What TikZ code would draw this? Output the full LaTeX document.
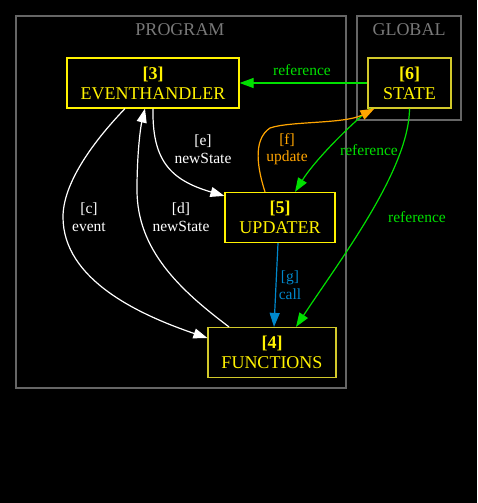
\documentclass[tikz,border=0pt]{standalone}
\usepackage{fontspec}
\setmainfont{Liberation Serif}
\usetikzlibrary{arrows.meta}
\definecolor{refgreen}{RGB}{0,224,0}
\definecolor{updorange}{RGB}{255,165,0}
\definecolor{callblue}{RGB}{0,136,204}
\definecolor{clustergray}{RGB}{102,102,102}
\definecolor{titlegray}{RGB}{120,120,120}
\begin{document}
\begin{tikzpicture}[->,>={Triangle[length=14pt,width=10pt]},x=1pt,y=-1pt,line width=1.2pt]
\tikzset{BoxStyle/.style = {draw=yellow,text=yellow,align=center,inner sep=0pt,minimum height=50pt,font=\fontsize{18pt}{20pt}\selectfont},
  DimBox/.style = {BoxStyle,draw=yellow!80!black},
  LabelStyle/.style = {align=center,inner sep=0pt,font=\fontsize{15.5pt}{17.5pt}\selectfont},
  ClusterStyle/.style = {-,draw=clustergray},
  TitleStyle/.style = {text=titlegray,font=\fontsize{18pt}{20pt}\selectfont}}
\fill[black] (0,0) rectangle (477,503);
% clusters
\draw[ClusterStyle] (16,16) rectangle (346,388);
\draw[ClusterStyle] (357,16) rectangle (461,120);
\node[TitleStyle] (program) at (180,30) {PROGRAM};
\node[TitleStyle] (global) at (409,30) {GLOBAL};
% boxes
\node[BoxStyle,minimum width=172pt] (ev) at (153,83) {{\bfseries [3]}\\EVENTHANDLER};
\node[DimBox,minimum width=83pt] (st) at (409.5,83) {{\bfseries [6]}\\STATE};
\node[BoxStyle,minimum width=110pt] (up) at (280,217.5) {{\bfseries [5]}\\UPDATER};
\node[DimBox,minimum width=128pt] (fn) at (272,352.5) {{\bfseries [4]}\\FUNCTIONS};
% edges
\draw[refgreen] (st.west) -- (ev.east);
\draw[white] (ev.south) .. controls (152,160) and (170,180) .. ([yshift=-4pt]up.north west);
\draw[white] ([xshift=-28pt]ev.south) .. controls (90,145) and (63,185) .. (63,217)
  .. controls (63,280) and (140,315) .. ([yshift=14.5pt]fn.west);
\draw[white] ([xshift=-43pt]fn.north) .. controls (180,290) and (137,250) .. (137,190)
  .. controls (137,150) and (141,125) .. ([xshift=-8pt]ev.south);
\draw[refgreen] ([xshift=3pt]st.south west) .. controls (350,125) and (315,160) .. ([xshift=15pt]up.north);
\draw[updorange] ([xshift=-15pt]up.north) .. controls (258,170) and (252,140) .. (270,128)
  .. controls (290,121) and (345,124) .. ([xshift=7pt]st.south west);
\draw[refgreen] (st.south) .. controls (409,170) and (340,260) .. ([xshift=24pt]fn.north);
\draw[callblue] ([xshift=-2pt]up.south) -- ([xshift=2pt]fn.north);
% labels
\node[LabelStyle,text=refgreen] (lblref1) at (302,70) {reference};
\node[LabelStyle,text=white] (lble) at (203,149) {[e]\\newState};
\node[LabelStyle,text=updorange] (lblf) at (287,149) {[f]\\update};
\node[LabelStyle,text=refgreen] (lblref2) at (369,150) {reference};
\node[LabelStyle,text=white] (lblc) at (89,217) {[c]\\event};
\node[LabelStyle,text=white] (lbld) at (181,217) {[d]\\newState};
\node[LabelStyle,text=callblue] (lblg) at (290,285) {[g]\\call};
\node[LabelStyle,text=refgreen] (lblref3) at (417,217) {reference};
\end{tikzpicture}
\end{document}
